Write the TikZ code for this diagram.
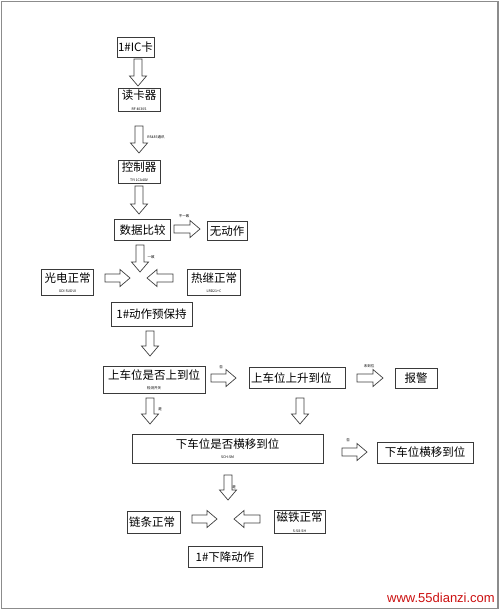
\documentclass[tikz,border=0pt]{standalone}
\usepackage{fontspec}
\newfontfamily\cjk{Noto Sans CJK SC}
\newfontfamily\wfont{Liberation Sans}
\definecolor{wred}{HTML}{CC1010}
\definecolor{boxline}{HTML}{3A3A3A}
\tikzset{
  box/.style={draw=boxline,line width=0.8pt,fill=white,inner sep=1pt,align=center,font=\cjk\fontsize{11.5}{12.5}\selectfont},
  harrow/.style={draw=black!75,line width=0.7pt,fill=white,line join=miter},
  tinylab/.style={font=\cjk\fontsize{3.5}{4}\selectfont,inner sep=0pt},
}
\newcommand{\sub}[1]{\\[-2pt]{\fontsize{3.5}{4}\selectfont #1}}
% hollow arrows: x, y-start, y-end (down) / y, x-start, x-end (right/left)
\newcommand{\harrdown}[3]{\draw[harrow] ({#1-4},#2) -- ({#1+4},#2) -- ({#1+4},{#3-10}) -- ({#1+8.5},{#3-10}) -- (#1,#3) -- ({#1-8.5},{#3-10}) -- ({#1-4},{#3-10}) -- cycle;}
\newcommand{\harrright}[3]{\draw[harrow] (#2,{#1-4}) -- (#2,{#1+4}) -- ({#3-10},{#1+4}) -- ({#3-10},{#1+8.5}) -- (#3,#1) -- ({#3-10},{#1-8.5}) -- ({#3-10},{#1-4}) -- cycle;}
\newcommand{\harrleft}[3]{\draw[harrow] (#2,{#1-4}) -- (#2,{#1+4}) -- ({#3+10},{#1+4}) -- ({#3+10},{#1+8.5}) -- (#3,#1) -- ({#3+10},{#1-8.5}) -- ({#3+10},{#1-4}) -- cycle;}
\begin{document}
\begin{tikzpicture}[x=1pt,y=-1pt]
\useasboundingbox (0,0) rectangle (500,610);
\fill[white] (0,0) rectangle (500,610);
\draw[black!45,line width=1.5pt] (1.5,1.5) rectangle (498,608.5);

% boxes
\node[box,minimum width=35pt,minimum height=20pt] (ic) at (135.5,47) {1\#IC卡};
\node[box,minimum width=42pt,minimum height=23pt] (reader) at (139,100) {读卡器\sub{RF 4030S}};
\node[box,minimum width=42pt,minimum height=23pt] (ctrl) at (139,171.5) {控制器\sub{TYI 1CA48V}};
\node[box,minimum width=56pt,minimum height=21pt] (cmp) at (142.5,230) {数据比较};
\node[box,minimum width=40pt,minimum height=19pt] (none) at (227,231) {无动作};
\node[box,minimum width=52pt,minimum height=26pt] (gd) at (67.5,282.5) {光电正常\sub{GDI SUDUI}};
\node[box,minimum width=53pt,minimum height=26pt] (rj) at (214,282.5) {热继正常\sub{LRD21+C}};
\node[box,minimum width=81pt,minimum height=24pt] (keep) at (151.5,314) {1\#动作预保持};
\node[box,minimum width=102pt,minimum height=27pt] (upq) at (154,380) {上车位是否上到位\sub{检测开关}};
\node[box,minimum width=96pt,minimum height=21pt,text width=92pt,align=left] (uprise) at (297,378) {上车位上升到位};
\node[box,minimum width=42pt,minimum height=20pt] (alarm) at (416,378) {报警};
\node[box,minimum width=191pt,minimum height=29pt] (dnq) at (227.5,448.5) {下车位是否横移到位\sub{SCH-SM}};
\node[box,minimum width=96pt,minimum height=21pt] (dnmove) at (425,452.5) {下车位横移到位};
\node[box,minimum width=53pt,minimum height=22pt,text width=49pt,align=left] (chain) at (153.5,522) {链条正常\\[5pt]};
\node[box,minimum width=51pt,minimum height=22pt] (mag) at (299.5,522) {磁铁正常\sub{S-S8-SH}};
\node[box,minimum width=74pt,minimum height=21pt] (down) at (225,557) {1\#下降动作};

% hollow arrows
\harrdown{138}{59}{86}
\harrdown{139}{126}{153}
\harrdown{139}{186}{214}
\harrright{229}{174}{200}
\harrdown{140}{245}{272}
\harrright{278}{105}{130}
\harrleft{278}{173}{147}
\harrdown{150}{331}{356}
\harrright{378}{211}{236}
\harrright{378}{357}{383}
\harrdown{150}{398}{424}
\harrdown{300}{398}{424}
\harrright{452}{342}{367}
\harrdown{228}{475}{500}
\harrright{519}{192}{217}
\harrleft{519}{260}{234}

% tiny labels
\node[tinylab] (l1) at (156,137) {RS485通讯};
\node[tinylab] (l2) at (184,216) {不一致};
\node[tinylab] (l3) at (151,257) {一致};
\node[tinylab] (l4) at (221,367) {否};
\node[tinylab] (l5) at (369,366) {未到位};
\node[tinylab] (l6) at (160,409) {是};
\node[tinylab] (l7) at (348,440) {否};
\node[tinylab] (l8) at (234,487) {是};

% watermark
\node[anchor=south east,inner sep=0pt,text=wred,font=\wfont\fontsize{13}{15}\selectfont] (wm) at (495,603) {www.55dianzi.com};
\end{tikzpicture}
\end{document}
